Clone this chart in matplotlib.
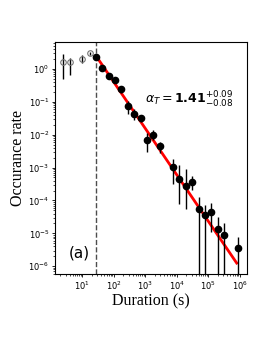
import numpy as np
import matplotlib
matplotlib.use("Agg")
import matplotlib.pyplot as plt

# open (excluded) points
x_open = [2.5, 4.0, 10.0, 17.0]
y_open = [1.66, 1.58, 2.0, 3.0]
y_open_lo = [0.49, 0.66, 1.48, 2.7]
y_open_hi = [2.8, 2.1, 2.7, 3.3]

# filled points
x_fill = [27.5, 43, 68, 107, 172, 275, 440, 710, 1100, 1800, 2900,
          7400, 11700, 19000, 30000, 49000, 78000, 126000, 200000, 316000, 850000]
y_fill = [2.3, 1.1, 0.62, 0.45, 0.24, 0.076, 0.044, 0.032, 0.0068, 0.0098, 0.0044,
          0.00105, 0.00045, 0.00028, 0.00036, 5.6e-5, 3.5e-5, 4.5e-5, 1.4e-5, 9.0e-6, 3.5e-6]
y_fill_lo = [2.1, 0.95, 0.53, 0.38, 0.19, 0.042, 0.028, 0.024, 0.003, 0.0068, 0.0027,
             0.00031, 0.00008, 0.000054, 0.00021, 1e-9, 1e-9, 1.1e-5, 1e-9, 1e-9, 1e-9]
y_fill_hi = [2.5, 1.25, 0.72, 0.53, 0.29, 0.105, 0.06, 0.04, 0.011, 0.0135, 0.0062,
             0.0018, 0.0012, 0.0009, 0.00055, 1.3e-4, 7.5e-5, 8.2e-5, 3.1e-5, 2.0e-5, 7.5e-6]

# fit
alpha_T = 1.41
x_min = 27.5
fit_x = [27.5, 800000.0]
fit_amp = 2.45

fig = plt.figure(figsize=(2.74, 3.43), dpi=100)
ax = fig.add_axes([0.2007, 0.2012, 0.7008, 0.6764])

lo = np.array(y_open) - np.array(y_open_lo)
hi = np.array(y_open_hi) - np.array(y_open)
ax.errorbar(x_open, y_open, yerr=[lo, hi], fmt='o', mfc='none', mec='0.45',
            ecolor='black', ms=4, mew=0.8, elinewidth=1.0, capsize=0)

lo = np.array(y_fill) - np.array(y_fill_lo)
hi = np.array(y_fill_hi) - np.array(y_fill)
ax.errorbar(x_fill, y_fill, yerr=[lo, hi], fmt='o', color='black',
            ms=4.5, elinewidth=1.0, capsize=0, zorder=3)

fx = np.logspace(np.log10(fit_x[0]), np.log10(fit_x[1]), 50)
ax.plot(fx, fit_amp * (fx / x_min) ** (-alpha_T), color='red', lw=2, zorder=2)

ax.axvline(x_min, color='0.3', ls='--', lw=1.0)

ax.set_xscale('log')
ax.set_yscale('log')
ax.set_xlim(1.35, 1.7e6)
ax.set_ylim(5.8e-7, 6.6)

ax.tick_params(labelsize=6, length=2.5, width=0.6, pad=1.5)
ax.tick_params(which='minor', length=1.5, width=0.5)
for s in ax.spines.values():
    s.set_linewidth(0.8)

ax.set_xlabel('Duration (s)', family='Liberation Serif', fontsize=11.5, labelpad=1)
ax.set_ylabel('Occurance rate', family='Liberation Serif', fontsize=11.5, labelpad=2)

ax.text(0.47, 0.735, r'$\alpha_T = \mathbf{1.41}^{+0.09}_{-0.08}$', transform=ax.transAxes,
        fontsize=9, fontweight='bold')
ax.text(0.07, 0.07, '(a)', transform=ax.transAxes, fontsize=11)

fig.savefig('out.png', dpi=100)
